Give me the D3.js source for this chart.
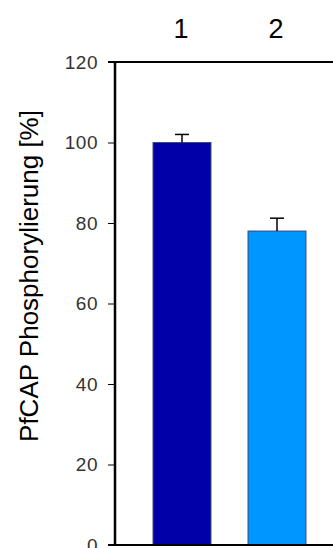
<!DOCTYPE html>
<html>
<head>
<meta charset="utf-8">
<script src="https://cdn.jsdelivr.net/npm/d3@7"></script>
<style>
  body { margin: 0; background: #fff; }
  svg text { font-family: Arial, "Liberation Sans", sans-serif; }
</style>
</head>
<body>
<div class="canva"></div>
<script>
// data
const categories = ["1", "2"];
const values = [100, 78];
const errors = [2, 3.2];
const yTicks = [0, 20, 40, 60, 80, 100, 120];
const barColors = ["#0000a8", "#0096ff"];

const svg = d3.select(".canva").append("svg")
    .attr("width", 333)
    .attr("height", 548);

const x = d3.scaleBand()
    .domain(categories)
    .range([134.5, 324.5])
    .paddingInner(0.39)
    .paddingOuter(0.195);

const y = d3.scaleLinear()
    .domain([0, 120])
    .range([545, 62]);

// bars
svg.selectAll("rect.bar")
  .data(values)
  .enter()
  .append("rect")
  .attr("class", "bar")
  .attr("x", (d, i) => x(categories[i]))
  .attr("y", d => y(d))
  .attr("width", x.bandwidth())
  .attr("height", d => y(0) - y(d))
  .style("fill", (d, i) => barColors[i])
  .style("stroke", "#3a4a7a")
  .style("stroke-width", 1);

// error bars (upper only)
const cx = i => x(categories[i]) + x.bandwidth() / 2;
values.forEach(function(v, i) {
  svg.append("line")
    .attr("x1", cx(i)).attr("x2", cx(i))
    .attr("y1", y(v)).attr("y2", y(v + errors[i]))
    .style("stroke", "#000").style("stroke-width", 1.5);
  svg.append("line")
    .attr("x1", cx(i) - 7).attr("x2", cx(i) + 7)
    .attr("y1", y(v + errors[i])).attr("y2", y(v + errors[i]))
    .style("stroke", "#000").style("stroke-width", 1.5);
});

// y axis
const yAxis = d3.axisLeft(y).tickValues(yTicks).tickSize(7).tickPadding(10);
const gy = svg.append("g")
  .attr("transform", "translate(115,0)")
  .call(yAxis);
gy.select(".domain").remove();
gy.selectAll(".tick line").style("stroke", "#000").style("stroke-width", 1);
gy.selectAll(".tick text")
  .style("font-size", "19px")
  .style("letter-spacing", "0.5px")
  .style("fill", "#333");

svg.append("line")
  .attr("x1", 115).attr("x2", 115)
  .attr("y1", y(120)).attr("y2", y(0))
  .style("stroke", "#000").style("stroke-width", 2.5);

// top and bottom frame lines
[120, 0].forEach(function(v) {
  svg.append("line")
    .attr("x1", 108).attr("x2", 333)
    .attr("y1", y(v)).attr("y2", y(v))
    .style("stroke", "#000").style("stroke-width", 2);
});

// category labels on top
svg.selectAll("text.cat")
  .data(categories)
  .enter()
  .append("text")
  .attr("class", "cat")
  .attr("x", d => x(d) + x.bandwidth() / 2 - 1)
  .attr("y", 38)
  .attr("text-anchor", "middle")
  .style("font-size", "27px")
  .text(d => d);

// y label
svg.append("text")
  .attr("transform", "translate(38,276) rotate(-90)")
  .attr("text-anchor", "middle")
  .style("font-size", "26px")
  .text("PfCAP Phosphorylierung [%]");
</script>
</body>
</html>
